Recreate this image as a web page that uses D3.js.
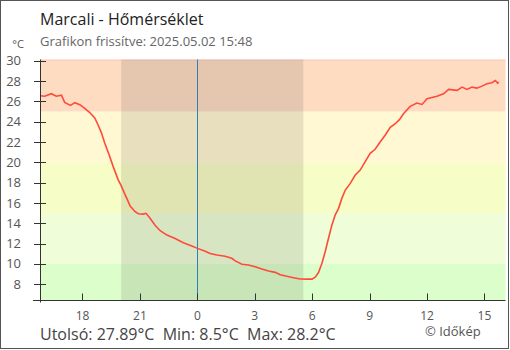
<!DOCTYPE html>
<html><head><meta charset="utf-8">
<script src="https://cdn.jsdelivr.net/npm/d3@7"></script>
<style>body{margin:0;background:#fff}svg{display:block}text{font-family:"Open Sans",sans-serif}</style>
</head><body><svg id="c" width="510" height="350"></svg>
<script>
// hours relative to 2025-05-02 00:00 (negative = previous day)
const hours = [-8.22,-7.97,-7.63,-7.37,-7.10,-6.93,-6.63,-6.40,-6.14,-5.88,-5.62,-5.36,-5.19,-5.01,-4.84,-4.61,-4.40,-4.14,-3.98,-3.77,-3.65,-3.51,-3.25,-3.08,-2.82,-2.68,-2.47,-2.21,-1.94,-1.59,-1.16,-0.73,-0.29,0.01,0.41,0.67,1.02,1.45,1.80,1.98,2.33,2.67,3.02,3.37,3.72,4.07,4.33,4.68,5.02,5.37,5.72,5.99,6.16,6.33,6.51,6.68,6.85,7.03,7.20,7.38,7.55,7.73,7.99,8.25,8.51,8.77,9.03,9.29,9.56,9.82,10.08,10.34,10.56,10.77,11.12,11.47,11.74,12.00,12.52,12.86,13.13,13.57,13.83,14.09,14.35,14.61,14.87,15.13,15.39,15.57,15.69,15.75];
const temps = [26.55,26.5,26.75,26.5,26.6,25.9,25.6,25.87,25.67,25.3,24.9,24.36,23.7,22.9,21.9,20.75,19.6,18.3,17.7,16.8,16.3,15.7,15.14,14.94,14.9,14.98,14.5,13.8,13.27,12.84,12.5,12.08,11.76,11.53,11.25,11.02,10.88,10.75,10.55,10.3,9.96,9.89,9.72,9.5,9.3,9.17,8.94,8.78,8.64,8.51,8.5,8.5,8.7,9.15,10.06,11.2,12.5,13.83,14.8,15.47,16.45,17.27,17.93,18.75,19.24,20.06,20.89,21.28,22.03,22.69,23.44,23.8,24.2,24.78,25.51,25.84,25.7,26.26,26.5,26.75,27.18,27.08,27.4,27.18,27.4,27.3,27.5,27.74,27.84,28.05,27.8,27.89];
const xTickHours = [-6,-3,0,3,6,9,12,15];
const xTickLabels = ["18","21","0","3","6","9","12","15"];
const yTicks = [8,10,12,14,16,18,20,22,24,26,28,30];
const bandLimits = [[-100,10],[10,15],[15,20],[20,25],[25,30],[30,100]];
const bandColors = ["#dcfecb","#effed8","#f6fdc6","#fff8d2","#fddcc2","#fcc3b0"];
const night = [-3.98, 5.54];
const domainX = [-8.22, 16.1];
const domainY = [6.4, 30.12];

const svg = d3.select("#c");
const L = 40, R = 505.5, T = 59.5, B = 300.5;
const x = d3.scaleLinear().domain(domainX).range([L, R]);
const y = d3.scaleLinear().domain(domainY).range([B, T]);
const clamp = v => Math.max(domainY[0], Math.min(domainY[1], v));

svg.append("g").selectAll("rect").data(bandLimits).join("rect")
  .attr("x", L).attr("width", R - L)
  .attr("y", d => y(clamp(d[1]))).attr("height", d => y(clamp(d[0])) - y(clamp(d[1])))
  .attr("fill", (d, i) => bandColors[i]);

svg.append("rect").attr("x", x(night[0])).attr("width", x(night[1]) - x(night[0]))
  .attr("y", T).attr("height", B - T).attr("fill", "rgba(40,30,20,0.11)");

svg.append("line").attr("x1", Math.round(x(0)) + 0.5).attr("x2", Math.round(x(0)) + 0.5)
  .attr("y1", T).attr("y2", B).attr("stroke", "#2f7fbf").attr("stroke-width", 1);

const pts = hours.map((h, i) => [h, temps[i]]);
svg.append("path").datum(pts)
  .attr("d", d3.line().x(d => x(d[0])).y(d => y(d[1])))
  .attr("fill", "none").attr("stroke", "#ff4a3a").attr("stroke-width", 1.6);

// y axis
const yg = svg.append("g").attr("transform", `translate(${L},0)`);
yg.append("line").attr("x1", 0.5).attr("x2", 0.5).attr("y1", T).attr("y2", B + 2).attr("stroke", "#333");
yg.selectAll("line.t").data(yTicks).join("line").attr("class", "t")
  .attr("x1", -6).attr("x2", 6).attr("y1", d => Math.round(y(d)) + 0.5).attr("y2", d => Math.round(y(d)) + 0.5)
  .attr("stroke", "#333");
yg.selectAll("text").data(yTicks).join("text")
  .attr("x", -19).attr("y", d => y(d)).attr("dy", "0.35em").attr("text-anchor", "end")
  .attr("font-size", 13).attr("fill", "#555").text(d3.format("d"));
svg.append("text").attr("x", 18).attr("y", 48).attr("text-anchor", "middle")
  .attr("font-size", 11).attr("fill", "#555").text("°C");

// x axis
const xg = svg.append("g");
xg.append("line").attr("x1", L - 7).attr("x2", R).attr("y1", B).attr("y2", B).attr("stroke", "#333");
xg.selectAll("line.t").data(xTickHours).join("line").attr("class", "t")
  .attr("x1", d => Math.round(x(d)) + 0.5).attr("x2", d => Math.round(x(d)) + 0.5)
  .attr("y1", B - 7).attr("y2", B).attr("stroke", "#333");
xg.selectAll("text").data(xTickHours).join("text")
  .attr("x", d => x(d)).attr("y", 319.5).attr("text-anchor", "middle")
  .attr("font-size", 12).attr("fill", "#555").text((d, i) => xTickLabels[i]);

// titles
svg.append("text").attr("x", 40).attr("y", 25).attr("font-size", 16).attr("fill", "#222").text("Marcali - Hőmérséklet");
svg.append("text").attr("x", 40).attr("y", 46).attr("font-size", 13).attr("fill", "#666").text("Grafikon frissítve: 2025.05.02 15:48");
svg.append("text").attr("x", 40).attr("y", 339.5).attr("font-size", 16).attr("fill", "#444")
  .attr("xml:space", "preserve").style("white-space", "pre")
  .text("Utolsó: 27.89°C  Min: 8.5°C  Max: 28.2°C");
svg.append("text").attr("x", 425).attr("y", 336).attr("font-size", 13).attr("fill", "#555").text("© Időkép");

svg.append("rect").attr("x", 0.5).attr("y", 0.5).attr("width", 508).attr("height", 348)
  .attr("fill", "none").attr("stroke", "#555");
</script></body></html>
